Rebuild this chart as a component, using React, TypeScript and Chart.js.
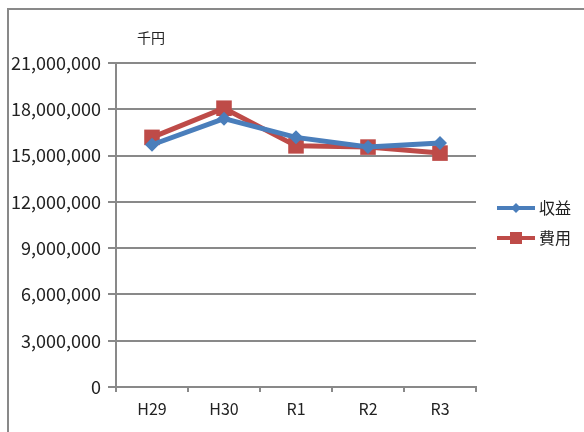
import React, { useEffect, useRef } from "react";
import { Chart, registerables } from "chart.js";

Chart.register(...registerables);

const categories = ["H29", "H30", "R1", "R2", "R3"];
const revenue = [15700000, 17390000, 16180000, 15550000, 15820000];
const expense = [16180000, 18070000, 15630000, 15550000, 15160000];
const seriesNames = ["収益", "費用"];
const unitLabel = "千円";
const yTicks = [0, 3000000, 6000000, 9000000, 12000000, 15000000, 18000000, 21000000];

const BLUE = "#4a7ebb";
const RED = "#be4b48";
const GRID = "#898989";
const TEXT = "#222";
const JP = "'Noto Sans CJK JP', sans-serif";
const TICKFONT = "'Noto Sans CJK JP', sans-serif";

const decor = {
  id: "decor",
  afterDraw(chart: any) {
    const ctx = chart.ctx;
    const area = chart.chartArea;
    ctx.save();
    // outer frame (top & left)
    ctx.strokeStyle = GRID;
    ctx.lineWidth = 2;
    ctx.beginPath();
    ctx.moveTo(8, 432);
    ctx.lineTo(8, 9);
    ctx.lineTo(584, 9);
    ctx.stroke();
    // unit label
    ctx.fillStyle = TEXT;
    ctx.font = "14px " + JP;
    ctx.textAlign = "left";
    ctx.textBaseline = "middle";
    ctx.fillText(unitLabel, 137, 38);
    // legend
    const ds = chart.data.datasets;
    const x0 = area.right + 21;
    const yStart = 208;
    const gap = 30;
    ds.forEach((d: any, i: number) => {
      const y = yStart + i * gap;
      ctx.strokeStyle = d.borderColor;
      ctx.lineWidth = 4;
      ctx.beginPath();
      ctx.moveTo(x0, y);
      ctx.lineTo(x0 + 38, y);
      ctx.stroke();
      ctx.fillStyle = d.backgroundColor;
      const cx = x0 + 19;
      if (d.pointStyle === "rectRot") {
        const r = 5;
        ctx.beginPath();
        ctx.moveTo(cx, y - r);
        ctx.lineTo(cx + r, y);
        ctx.lineTo(cx, y + r);
        ctx.lineTo(cx - r, y);
        ctx.closePath();
        ctx.fill();
      } else {
        ctx.fillRect(cx - 6, y - 6, 12, 12);
      }
      ctx.fillStyle = TEXT;
      ctx.font = "16px " + JP;
      ctx.textAlign = "left";
      ctx.textBaseline = "middle";
      ctx.fillText(d.label, x0 + 42, y);
    });
    ctx.restore();
  },
};

export default function App() {
  const ref = useRef<HTMLCanvasElement>(null);
  useEffect(() => {
    if (!ref.current) return;
    const chart = new Chart(ref.current, {
      type: "line",
      data: {
        labels: categories,
        datasets: [
          {
            label: seriesNames[0],
            data: revenue,
            borderColor: BLUE,
            backgroundColor: BLUE,
            borderWidth: 5,
            pointStyle: "rectRot",
            pointRadius: 7,
            pointBorderWidth: 0,
            tension: 0,
          },
          {
            label: seriesNames[1],
            data: expense,
            borderColor: RED,
            backgroundColor: RED,
            borderWidth: 5,
            pointStyle: "rect",
            pointRadius: 11,
            pointBorderWidth: 0,
            tension: 0,
          },
        ],
      },
      options: {
        animation: false,
        responsive: false,
        devicePixelRatio: 1,
        layout: { padding: { left: 0, top: 63, right: 108, bottom: 0 } },
        plugins: { legend: { display: false }, tooltip: { enabled: false }, title: { display: false } },
        scales: {
          x: {
            offset: true,
            afterFit(scale: any) {
              scale.height = 45;
            },
            grid: {
              offset: true,
              drawOnChartArea: false,
              drawTicks: true,
              tickLength: 5,
              color: GRID,
              lineWidth: 2,
            },
            border: { color: GRID, width: 2 },
            ticks: {
              color: TEXT,
              font: { family: TICKFONT, size: 16 },
              padding: 7,
              maxRotation: 0,
            },
          },
          y: {
            min: 0,
            max: 21000000,
            afterFit(scale: any) {
              scale.width = 116;
            },
            afterBuildTicks(scale: any) {
              scale.ticks = yTicks.map((v) => ({ value: v }));
            },
            grid: {
              color: GRID,
              lineWidth: 2,
              tickLength: 8,
            },
            border: { color: GRID, width: 2 },
            ticks: {
              color: TEXT,
              font: { family: TICKFONT, size: 18 },
              padding: 7,
              callback: (v: any) => Number(v).toLocaleString("en-US"),
            },
          },
        },
      },
      plugins: [decor],
    });
    return () => chart.destroy();
  }, []);
  return (
    <div style={{ position: "absolute", left: 0, top: 0, width: 584, height: 432, background: "#fff" }}>
      <canvas ref={ref} width={584} height={432} style={{ display: "block" }} />
    </div>
  );
}
